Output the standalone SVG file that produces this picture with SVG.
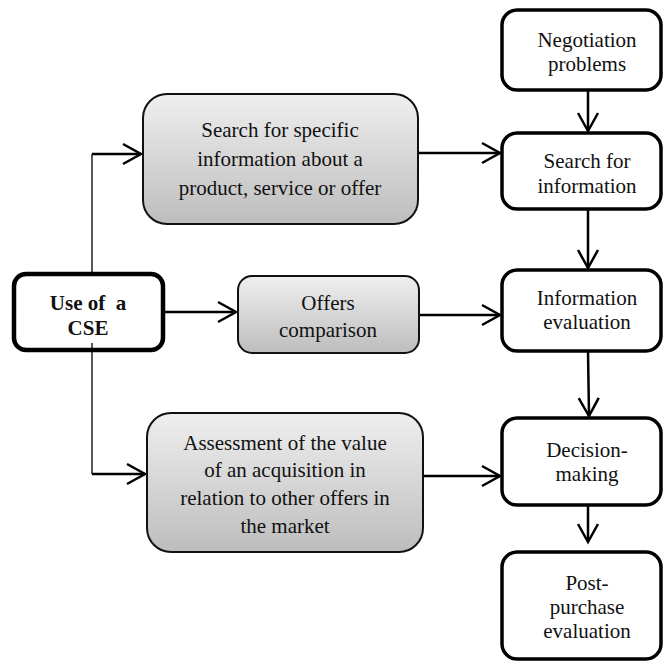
<svg xmlns="http://www.w3.org/2000/svg" width="663" height="662" viewBox="0 0 663 662">
<style>
text{font-family:"Liberation Serif",Tinos,"Times New Roman",Times,"DejaVu Serif","Noto Serif",serif;font-size:21px;fill:#111;text-anchor:middle}
.b{font-weight:bold}
.gray{fill:url(#g);stroke:#111;stroke-width:2}
.wb{fill:#fff;stroke:#000;stroke-width:3.5}
.cse{fill:#fff;stroke:#000;stroke-width:4.5}
.ln{fill:none;stroke:#000;stroke-width:2.5}
.thin{fill:none;stroke:#000;stroke-width:1.3}
.arr{marker-end:url(#ah)}
</style>
<defs>
<linearGradient id="g" x1="0" y1="0" x2="0" y2="1">
<stop offset="0" stop-color="#efefef"/>
<stop offset="1" stop-color="#bdbdbd"/>
</linearGradient>
<marker id="ah" markerUnits="userSpaceOnUse" viewBox="-22 -13 26 26" markerWidth="26" markerHeight="26" refX="0" refY="0" orient="auto">
<path d="M-18,-10 L0,0 L-18,10" fill="none" stroke="#000" stroke-width="2.5"/>
</marker>
</defs>
<g id="connectors">
<polyline class="thin" points="92,154 92,474"/>
<line class="ln arr" x1="92" y1="154" x2="141" y2="154"/>
<line class="ln arr" x1="92" y1="474" x2="145" y2="474"/>
<line class="ln arr" x1="418" y1="153" x2="500" y2="153"/>
<line class="ln arr" x1="163" y1="312" x2="236" y2="312"/>
<line class="ln arr" x1="419" y1="315" x2="500" y2="315"/>
<line class="ln arr" x1="423" y1="476" x2="500" y2="476"/>
<line class="ln arr" x1="588" y1="91" x2="588" y2="131"/>
<line class="ln arr" x1="588" y1="209" x2="588" y2="268"/>
<line class="ln arr" x1="588" y1="351" x2="589" y2="416"/>
<line class="ln arr" x1="588" y1="505" x2="588" y2="542"/>
</g>
<g id="cse">
<rect class="cse" x="14" y="274" width="149" height="76" rx="12"/>
<line class="thin" x1="92" y1="343" x2="92" y2="352"/>
<text class="b" x="88" y="310">Use of&#160; a</text>
<text class="b" x="88" y="335">CSE</text>
</g>
<g id="search-specific">
<rect class="gray" x="143" y="94" width="275" height="130" rx="24"/>
<text x="280" y="137">Search for specific</text>
<text x="280" y="166">information about a</text>
<text x="280" y="195">product, service or offer</text>
</g>
<g id="offers">
<rect class="gray" x="238" y="276" width="181" height="77" rx="14"/>
<text x="328" y="310">Offers</text>
<text x="328" y="337">comparison</text>
</g>
<g id="assessment">
<rect class="gray" x="147" y="413" width="276" height="139" rx="24"/>
<text x="285" y="450">Assessment of the value</text>
<text x="285" y="477">of an acquisition in</text>
<text x="285" y="505">relation to other offers in</text>
<text x="285" y="533">the market</text>
</g>
<g id="negotiation">
<rect class="wb" x="502" y="10" width="159" height="80" rx="15"/>
<text x="587" y="47">Negotiation</text>
<text x="587" y="71">problems</text>
</g>
<g id="search-info">
<rect class="wb" x="502" y="133" width="159" height="76" rx="15"/>
<text x="587" y="168">Search for</text>
<text x="587" y="193">information</text>
</g>
<g id="info-eval">
<rect class="wb" x="502" y="270" width="159" height="81" rx="15"/>
<text x="587" y="305">Information</text>
<text x="587" y="329">evaluation</text>
</g>
<g id="decision">
<rect class="wb" x="502" y="418" width="159" height="87" rx="15"/>
<text x="587" y="457">Decision-</text>
<text x="587" y="481">making</text>
</g>
<g id="post">
<rect class="wb" x="502" y="552" width="159" height="107" rx="15"/>
<text x="587" y="590">Post-</text>
<text x="587" y="614">purchase</text>
<text x="587" y="638">evaluation</text>
</g>
</svg>
